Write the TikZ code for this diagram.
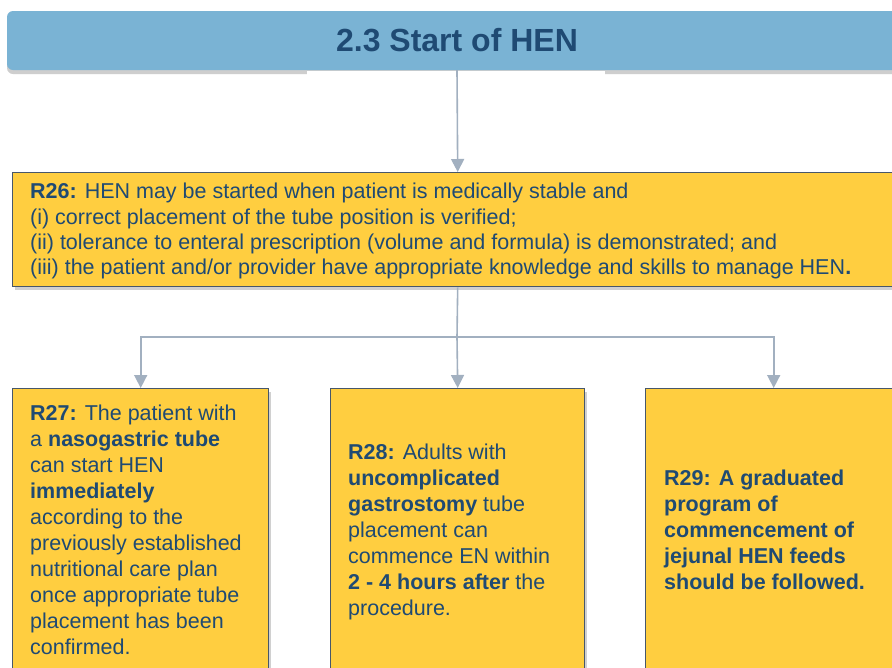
\documentclass[tikz,border=0pt]{standalone}
\usepackage{fontspec}
\setmainfont{Liberation Sans}
\usetikzlibrary{arrows.meta,shadows}
\definecolor{titlefill}{HTML}{7AB3D4}
\definecolor{navy}{HTML}{1F4A73}
\definecolor{gold}{HTML}{FFCE40}
\definecolor{boxline}{HTML}{47576A}
\definecolor{conn}{HTML}{A2B0C0}
\tikzset{
  titlebox/.style={fill=titlefill, draw=none, rounded corners=6pt,
    drop shadow={shadow xshift=0pt, shadow yshift=-4pt, opacity=0.35, fill=black!55},
    text=navy, font=\bfseries\fontsize{32}{36}\selectfont, inner sep=0pt},
  goldbox/.style={fill=gold, draw=boxline, line width=1.4pt, inner sep=0pt,
    drop shadow={shadow xshift=2pt, shadow yshift=-3pt, opacity=0.3, fill=black!60}},
  txt/.style={text=navy, align=left, inner sep=0pt, anchor=north west,
    font=\fontsize{21.5}{26}\selectfont},
  txtA/.style={txt, font=\fontsize{21.5}{25.3}\selectfont},
  conline/.style={draw=conn, line width=1.6pt},
  arr/.style={conline, -{Triangle[width=13pt,length=13pt]}},
}
\begin{document}
\begin{tikzpicture}[x=1pt,y=-1pt]
\clip (0,0) rectangle (892,667);
\fill[white] (0,0) rectangle (892,667);
% title bar
\node[titlebox, minimum width=900pt, minimum height=59pt] (title) at (457,40.5) {2.3 Start of HEN};
\fill[white] (307,71) rectangle (605,80);
% R26
\node[goldbox, anchor=north west, minimum width=890pt, minimum height=114pt] (r26) at (12,172) {};
\node[txtA] (t26) at (30,183) {\textbf{R26:} HEN may be started when patient is medically stable and\\
(i) correct placement of the tube position is verified;\\
(ii) tolerance to enteral prescription (volume and formula) is demonstrated; and\\
(iii) the patient and/or provider have appropriate knowledge and skills to manage HEN\textbf{.}};
% lower boxes
\node[goldbox, anchor=north west, minimum width=256pt, minimum height=320pt] (r27) at (12,388) {};
\node[goldbox, anchor=north west, minimum width=254pt, minimum height=320pt] (r28) at (330,388) {};
\node[goldbox, anchor=north west, minimum width=256pt, minimum height=320pt] (r29) at (645,388) {};
\node[txt] (t27) at (30,405) {\textbf{R27:} The patient with\\
a \textbf{nasogastric tube}\\
can start HEN\\
\textbf{immediately}\\
according to the\\
previously established\\
nutritional care plan\\
once appropriate tube\\
placement has been\\
confirmed.};
\node[txt] (t28) at (348,444) {\textbf{R28:} Adults with\\
\textbf{uncomplicated}\\
\textbf{gastrostomy} tube\\
placement can\\
commence EN within\\
\textbf{2 - 4 hours after} the\\
procedure.};
\node[txt, font=\bfseries\fontsize{21.5}{26}\selectfont] (t29) at (664,470) {R29: A graduated\\
program of\\
commencement of\\
jejunal HEN feeds\\
should be followed.};
% connectors
\coordinate (split) at (457,337);
\draw[arr] (title.south) -- (r26.north);
\draw[conline] (r26.south) -- (split);
\draw[arr] (split) -| (r27.north);
\draw[arr] (split) -- (r28.north);
\draw[arr] (split) -| (r29.north);
\end{tikzpicture}
\end{document}
